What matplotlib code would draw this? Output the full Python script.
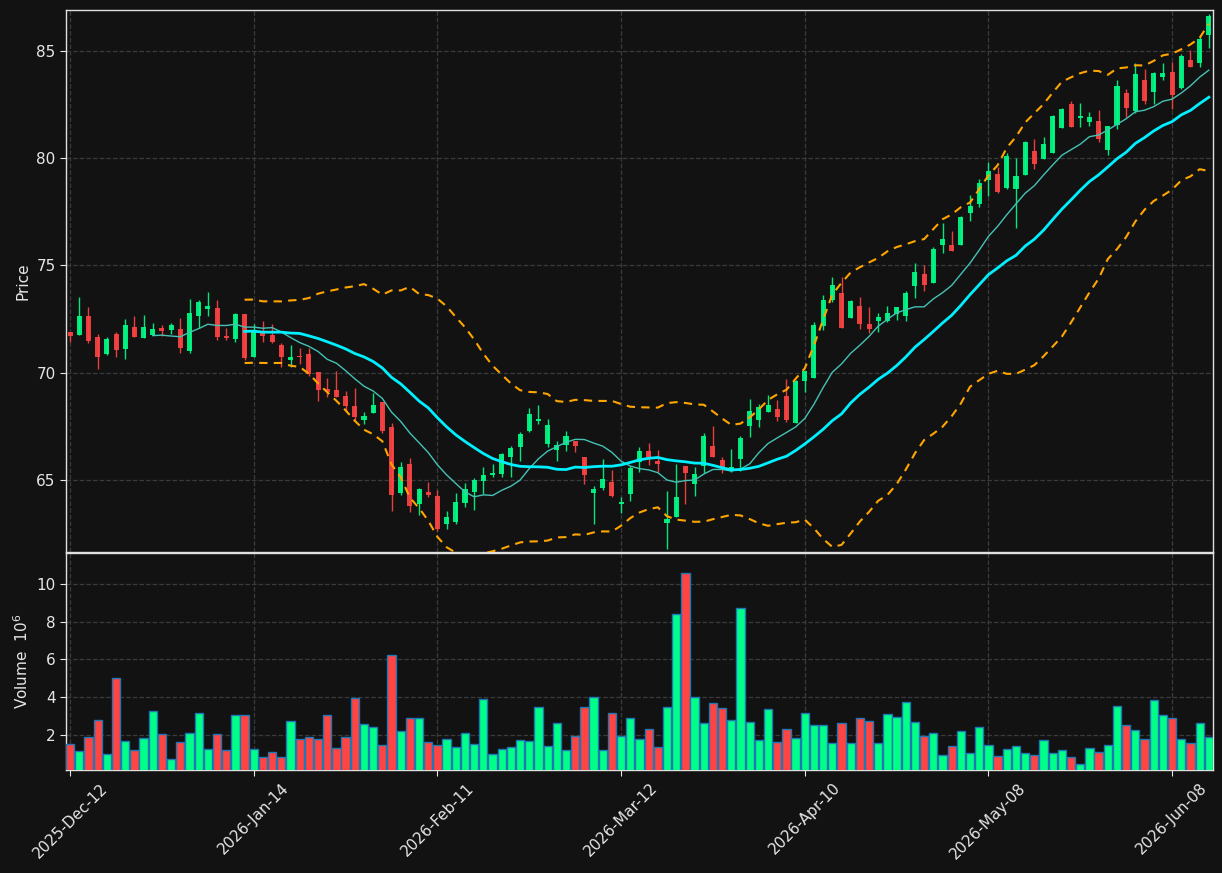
import numpy as np
import pandas as pd
import matplotlib
matplotlib.use('Agg')
from matplotlib import pyplot as plt

# daily OHLC (one row per trading session)
opens = [71.90, 71.76, 72.65, 71.67, 70.87, 71.81, 71.11, 72.13, 71.62, 71.76,
         72.09, 71.99, 72.04, 71.01, 72.65, 72.97, 73.02, 71.69, 71.57, 72.74,
         70.72, 71.88, 71.77, 71.29, 70.59, 70.78, 70.87, 70.03, 69.26, 69.19,
         68.91, 68.45, 67.80, 68.12, 68.62, 67.47, 64.39, 65.74, 63.89, 64.44,
         64.25, 62.96, 63.04, 63.93, 64.44, 64.95, 65.23, 65.28, 66.07, 66.54,
         67.28, 67.75, 66.68, 66.40, 66.63, 66.82, 66.07, 64.41, 64.62, 64.90,
         63.89, 64.35, 65.85, 66.35, 65.88, 63.01, 63.29, 65.65, 64.83, 65.67,
         66.58, 65.91, 65.46, 65.99, 67.53, 67.81, 68.18, 68.31, 68.91, 67.64,
         69.60, 69.77, 72.19, 73.40, 73.72, 72.57, 73.12, 72.28, 72.42, 72.39,
         72.76, 72.65, 74.06, 74.61, 74.19, 75.96, 75.96, 75.96, 77.45, 77.87,
         78.99, 79.27, 78.61, 78.58, 79.23, 80.34, 79.98, 80.26, 81.42, 82.53,
         81.89, 81.70, 81.74, 80.40, 81.56, 83.04, 82.22, 83.65, 83.10, 83.80,
         84.02, 83.29, 84.56, 84.45, 85.74]
highs = [71.90, 73.52, 73.05, 71.79, 71.67, 71.90, 72.51, 72.65, 72.69, 72.32,
         72.23, 72.32, 72.55, 73.44, 73.39, 73.76, 73.39, 72.07, 72.79, 72.74,
         72.27, 72.41, 72.27, 71.40, 71.28, 71.14, 71.17, 70.03, 69.74, 70.08,
         69.15, 69.27, 68.15, 69.07, 68.62, 67.64, 65.82, 66.01, 64.64, 64.89,
         64.53, 63.54, 64.41, 64.86, 65.11, 65.59, 65.73, 66.27, 66.60, 67.24,
         68.34, 68.49, 67.83, 66.80, 67.28, 66.82, 66.07, 64.70, 65.96, 65.45,
         64.19, 65.67, 66.52, 66.71, 66.40, 64.50, 65.73, 65.65, 65.59, 67.17,
         67.52, 66.05, 66.43, 67.06, 68.76, 68.53, 68.95, 68.73, 69.69, 69.66,
         70.06, 72.38, 73.61, 74.45, 74.45, 73.40, 73.52, 73.05, 72.77, 73.09,
         73.07, 73.82, 75.12, 75.03, 75.85, 77.00, 76.60, 77.31, 78.28, 79.01,
         79.83, 79.60, 80.23, 79.99, 80.82, 80.88, 80.97, 82.01, 82.33, 82.65,
         82.56, 82.14, 82.23, 81.50, 83.63, 83.21, 84.42, 84.16, 84.04, 84.42,
         84.47, 84.84, 85.03, 85.71, 86.72]
lows = [71.42, 71.74, 71.40, 70.19, 70.83, 70.75, 70.66, 71.67, 71.62, 71.76,
        71.71, 71.81, 70.92, 70.94, 72.09, 72.65, 71.53, 71.53, 71.45, 70.60,
        70.72, 71.45, 71.40, 70.25, 70.25, 70.41, 69.83, 68.70, 68.85, 68.85,
        68.18, 67.80, 67.61, 68.11, 67.17, 63.57, 64.30, 63.52, 63.37, 64.19,
        62.60, 62.70, 62.95, 63.76, 63.61, 64.35, 65.15, 65.14, 65.15, 65.90,
        67.24, 67.59, 66.55, 65.88, 66.37, 66.29, 64.80, 62.93, 64.53, 64.21,
        63.44, 64.03, 65.36, 65.70, 65.39, 61.80, 63.29, 63.86, 64.24, 65.31,
        66.09, 65.31, 65.39, 65.42, 67.02, 67.48, 68.18, 67.73, 67.72, 67.64,
        69.09, 69.77, 72.01, 73.32, 72.09, 72.54, 72.06, 71.87, 71.92, 72.37,
        72.45, 72.40, 73.46, 73.83, 74.16, 75.56, 75.68, 75.96, 77.09, 77.73,
        78.24, 78.38, 78.58, 76.75, 79.23, 79.51, 79.98, 80.26, 81.42, 81.46,
        81.47, 81.49, 80.77, 80.17, 81.38, 81.94, 82.09, 82.53, 82.54, 83.63,
        82.30, 83.24, 84.27, 84.24, 85.12]
closes = [71.73, 72.65, 71.48, 70.73, 71.57, 71.06, 72.23, 71.67, 72.13, 72.04,
          71.95, 72.23, 71.15, 72.79, 73.30, 73.11, 71.67, 71.64, 72.74, 70.69,
          71.91, 71.73, 71.45, 70.75, 70.73, 70.73, 69.94, 69.21, 69.10, 68.87,
          68.45, 67.95, 67.98, 68.49, 67.30, 64.32, 65.60, 63.80, 64.58, 64.30,
          62.71, 63.27, 63.97, 64.58, 65.00, 65.23, 65.32, 66.21, 66.49, 67.16,
          68.07, 67.84, 67.56, 66.63, 67.05, 66.60, 65.23, 64.58, 65.04, 64.25,
          63.97, 65.56, 66.35, 66.05, 65.76, 63.18, 64.21, 65.34, 65.28, 67.05,
          66.09, 65.59, 65.59, 66.96, 68.21, 68.39, 68.48, 67.95, 67.81, 69.61,
          70.06, 72.22, 73.39, 74.10, 72.09, 73.35, 72.25, 72.04, 72.60, 72.79,
          73.07, 73.72, 74.70, 74.11, 75.77, 76.24, 75.68, 77.27, 77.78, 78.85,
          79.41, 78.43, 80.12, 79.17, 80.74, 79.75, 80.66, 81.97, 82.29, 81.46,
          81.97, 81.92, 80.91, 81.50, 83.37, 82.36, 83.93, 82.68, 83.97, 83.97,
          82.95, 84.77, 84.27, 85.54, 86.63]
# volume in millions
volumes = [1.50, 1.13, 1.88, 2.78, 0.97, 5.01, 1.66, 1.19, 1.82, 3.26,
           2.04, 0.71, 1.61, 2.09, 3.15, 1.24, 2.04, 1.19, 3.04, 3.04,
           1.24, 0.81, 1.08, 0.81, 2.73, 1.77, 1.88, 1.77, 3.04, 1.29,
           1.88, 3.95, 2.57, 2.41, 1.45, 6.23, 2.19, 2.88, 2.88, 1.61,
           1.45, 1.77, 1.35, 2.09, 1.50, 3.89, 0.97, 1.24, 1.35, 1.72,
           1.66, 3.47, 1.40, 2.62, 1.19, 1.93, 3.47, 4.00, 1.19, 3.15,
           1.93, 2.88, 1.77, 2.30, 1.35, 3.47, 8.41, 10.58, 4.00, 2.62,
           3.68, 3.42, 2.78, 8.73, 2.67, 1.72, 3.36, 1.61, 2.30, 1.82,
           3.15, 2.51, 2.51, 1.56, 2.62, 1.56, 2.88, 2.73, 1.56, 3.10,
           2.94, 3.73, 2.67, 1.93, 2.09, 0.92, 1.40, 2.19, 1.03, 2.41,
           1.45, 0.87, 1.24, 1.40, 1.03, 0.92, 1.72, 1.03, 1.19, 0.81,
           0.48, 1.29, 1.08, 1.45, 3.52, 2.51, 2.25, 1.77, 3.84, 3.04,
           2.88, 1.77, 1.56, 2.62, 1.91]

tick_idx = [0, 20, 40, 60, 80, 100, 120]
tick_labels = ['2025-Dec-12', '2026-Jan-14', '2026-Feb-11', '2026-Mar-12',
               '2026-Apr-10', '2026-May-08', '2026-Jun-08']

df = pd.DataFrame({'Open': opens, 'High': highs, 'Low': lows,
                   'Close': closes, 'Volume': volumes})
ma10 = df['Close'].rolling(10).mean()
ma20 = df['Close'].rolling(20).mean()
sd20 = df['Close'].rolling(20).std()
bb_up = ma20 + 2 * sd20
bb_lo = ma20 - 2 * sd20

bg = '#121212'
up_c, dn_c = '#00ff88', '#ff4444'
txt = '#e6e6e6'

fig = plt.figure(figsize=(12.22, 8.73), dpi=100, facecolor=bg)
ax1 = fig.add_axes([0.054, 0.3677, 0.9386, 0.6208])
ax2 = fig.add_axes([0.054, 0.118, 0.9386, 0.2486], sharex=ax1)

x = np.arange(len(df))
up = df['Close'] >= df['Open']
cols = np.where(up, up_c, dn_c)

# candles: wicks then bodies
ax1.vlines(x, df['Low'], df['High'], colors=cols, linewidth=1.0, alpha=0.9, zorder=2)
body_lo = np.minimum(df['Open'], df['Close'])
body_h = np.maximum((df['Close'] - df['Open']).abs(), 0.04)
ax1.bar(x, body_h, bottom=body_lo, width=0.55, color=cols, alpha=0.9,
        linewidth=0, zorder=3)

ax1.plot(x, ma10, color='#45c2b5', linewidth=1.0, zorder=4)
ax1.plot(x, ma20, color='#00f0ff', linewidth=2.0, zorder=4)
ax1.plot(x, bb_up, color='#ffa500', linewidth=1.5, linestyle=(0, (4, 3)), zorder=4)
ax1.plot(x, bb_lo, color='#ffa500', linewidth=1.5, linestyle=(0, (4, 3)), zorder=4)

ax2.bar(x, df['Volume'], width=0.9, color=cols, edgecolor='#1f77b4',
        linewidth=1.0, zorder=3)

ax1.set_ylim(61.64, 86.91)
ax1.set_yticks([65, 70, 75, 80, 85])
ax2.set_ylim(0.3 * df['Volume'].min(), 1.1 * df['Volume'].max())
ax2.set_yticks([2, 4, 6, 8, 10])
ax1.set_xlim(-0.45, len(df) - 0.55)

ax1.set_ylabel('Price', color=txt, fontsize=11)
ax2.set_ylabel('Volume  $10^{6}$', color=txt, fontsize=11)

for ax in (ax1, ax2):
    ax.set_facecolor(bg)
    ax.grid(True, color='#3a3a3a', linestyle='--', linewidth=0.9, zorder=0)
    ax.set_axisbelow(True)
    ax.tick_params(colors=txt, labelsize=11, length=4)
    for s in ax.spines.values():
        s.set_color('#e0e0e0')
        s.set_linewidth(1.0)

ax2.set_xticks(tick_idx)
ax2.set_xticklabels(tick_labels, rotation=45, ha='center')
plt.setp(ax1.get_xticklabels(), visible=False)

fig.savefig('out.png', dpi=100, facecolor=bg)
